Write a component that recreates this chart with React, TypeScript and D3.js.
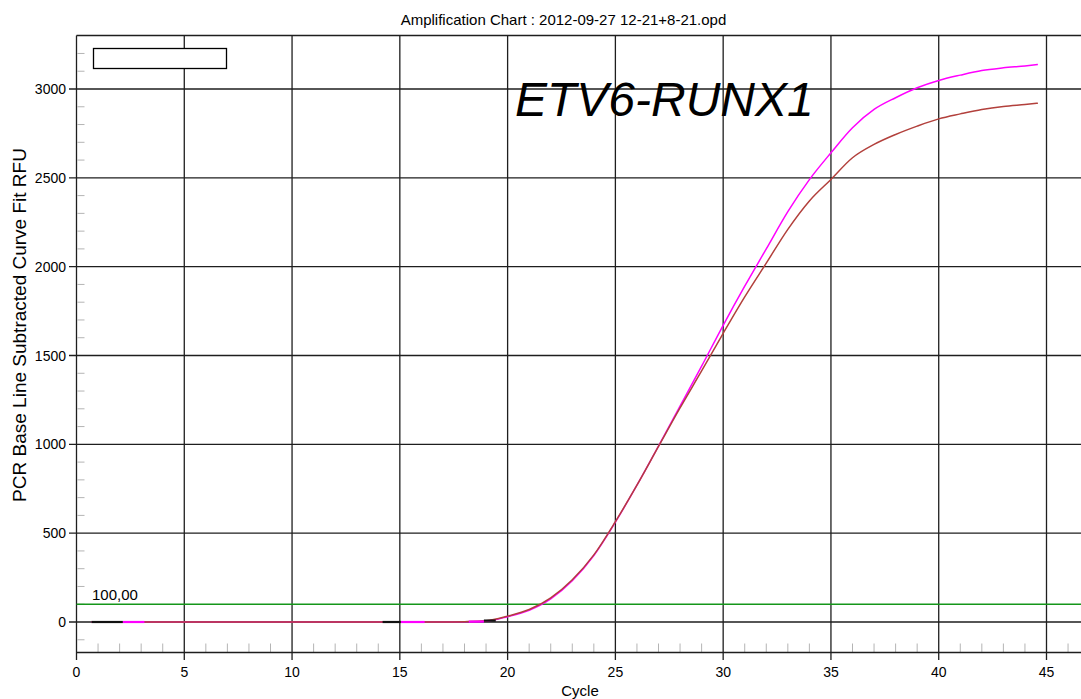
import React from "react";
import * as d3 from "d3";

const cycles = [0.7, 1, 2, 3, 4, 5, 6, 7, 8, 9, 10, 11, 12, 13, 14, 15, 16, 17, 18, 19, 20, 21, 22, 23, 24, 25, 26, 27, 28, 29, 30, 31, 32, 33, 34, 35, 36, 37, 38, 39, 40, 41, 42, 43, 44, 44.6];
const magentaRFU = [0, 0, 0, 0, 0, 0, 0, 0, 0, 0, 0, 0, 0, 0, 0, 0, 0, 0, 1, 5, 30, 66, 130, 232, 374, 562, 770, 990, 1215, 1440, 1670, 1890, 2100, 2310, 2490, 2641, 2782, 2885, 2951, 3007, 3048, 3078, 3104, 3119, 3130, 3138];
const brownRFU = [0, 0, 0, 0, 0, 0, 0, 0, 0, 0, 0, 0, 0, 0, 0, 0, 0, 0, 2, 7, 33, 70, 136, 238, 378, 565, 770, 988, 1205, 1413, 1625, 1830, 2020, 2210, 2370, 2491, 2613, 2688, 2744, 2791, 2832, 2860, 2885, 2902, 2913, 2920];

// baseline range markers [startCycle, endCycle, value]
const blackMarkers = [[0.7, 2.15, 0], [14.2, 15.05, 0], [18.9, 19.45, 8]];
const magentaMarkers = [[2.15, 3.15, 0], [15.05, 16.15, 0], [18.2, 18.9, 2]];

const xMajor = [0, 5, 10, 15, 20, 25, 30, 35, 40, 45];
const xMinor = [1, 2, 3, 4, 6, 7, 8, 9, 11, 12, 13, 14, 16, 17, 18, 19, 21, 22, 23, 24, 26, 27, 28, 29, 31, 32, 33, 34, 36, 37, 38, 39, 41, 42, 43, 44, 46];
const yMajor = [0, 500, 1000, 1500, 2000, 2500, 3000];
const yMinor = [-100, 100, 200, 300, 400, 600, 700, 800, 900, 1100, 1200, 1300, 1400, 1600, 1700, 1800, 1900, 2100, 2200, 2300, 2400, 2600, 2700, 2800, 2900, 3100, 3200];
const threshold = 100;
const thresholdLabel = "100,00";
const title = "Amplification Chart : 2012-09-27 12-21+8-21.opd";
const xTitle = "Cycle";
const yTitle = "PCR Base Line Subtracted Curve Fit RFU";
const annotation = "ETV6-RUNX1";

const W = 1081;
const H = 699;
const left = 76.5;
const top = 35.5;
const bottom = 652.5;
const right = W;

export default function App() {
  const x = d3.scaleLinear().domain([0, 45]).range([left, 1046.5]);
  const y = d3.scaleLinear().domain([0, 3000]).range([622, 89]);
  const line = d3
    .line<number>()
    .x((_, i) => x(cycles[i]))
    .y((v) => y(v))
    .curve(d3.curveMonotoneX);
  const font = "'Liberation Sans', Arial, sans-serif";
  const grid = "#1e1e1e";
  return (
    <svg
      width={W}
      height={H}
      style={{ position: "absolute", left: 0, top: 0, background: "#fff" }}
      fontFamily={font}
    >
      <rect x={0} y={0} width={W} height={H} fill="#fff" />
      <text x={563.5} y={24.5} fontSize={15} textAnchor="middle" fill="#000">
        {title}
      </text>
      {/* minor ticks */}
      {yMinor.map((v) => (
        <line key={"ym" + v} x1={left + 1} x2={left + 8} y1={y(v)} y2={y(v)} stroke="#b4b4b4" strokeWidth={1} />
      ))}
      {xMinor.map((c) => (
        <line key={"xm" + c} x1={x(c)} x2={x(c)} y1={bottom - 9} y2={bottom} stroke="#b4b4b4" strokeWidth={1} />
      ))}
      {/* grid */}
      {xMajor.map((c) => (
        <line key={"xg" + c} x1={x(c)} x2={x(c)} y1={top} y2={bottom + 7.5} stroke={grid} strokeWidth={1.3} />
      ))}
      {yMajor.map((v) => (
        <line key={"yg" + v} x1={left - 7.5} x2={right} y1={y(v)} y2={y(v)} stroke={grid} strokeWidth={1.3} />
      ))}
      <line x1={left} x2={right} y1={top} y2={top} stroke={grid} strokeWidth={1.3} />
      <line x1={left} x2={right} y1={bottom} y2={bottom} stroke={grid} strokeWidth={1.3} />
      {/* tick labels */}
      {xMajor.map((c) => (
        <text key={"xl" + c} x={x(c)} y={677} fontSize={14} textAnchor="middle" fill="#000">
          {c}
        </text>
      ))}
      {yMajor.map((v) => (
        <text key={"yl" + v} x={66} y={y(v) + 5} fontSize={14} textAnchor="end" fill="#000">
          {v}
        </text>
      ))}
      <text x={580} y={696} fontSize={15} textAnchor="middle" fill="#000">
        {xTitle}
      </text>
      <text
        transform={`translate(26,325) rotate(-90)`}
        fontSize={19}
        textAnchor="middle"
        fill="#000"
      >
        {yTitle}
      </text>
      {/* threshold */}
      <line x1={left} x2={right} y1={y(threshold)} y2={y(threshold)} stroke="#15961a" strokeWidth={1.4} />
      <text x={92} y={600} fontSize={15} fill="#000">
        {thresholdLabel}
      </text>
      {/* legend box */}
      <rect x={93.5} y={48.5} width={133} height={20} fill="#fff" stroke="#000" strokeWidth={1.3} />
      {/* annotation */}
      <text x={515} y={115.5} fontSize={48} fontStyle="italic" fill="#000">
        {annotation}
      </text>
      {/* curves */}
      <path d={line(magentaRFU) || ""} fill="none" stroke="#ff00ff" strokeWidth={1.5} />
      <path d={line(brownRFU) || ""} fill="none" stroke="#b2403c" strokeWidth={1.5} />
      {blackMarkers.map((m, i) => (
        <line key={"bm" + i} x1={x(m[0])} x2={x(m[1])} y1={y(m[2])} y2={y(m[2])} stroke="#111" strokeWidth={2.2} />
      ))}
      {magentaMarkers.map((m, i) => (
        <line key={"mm" + i} x1={x(m[0])} x2={x(m[1])} y1={y(m[2])} y2={y(m[2])} stroke="#ff00ff" strokeWidth={2.2} />
      ))}
    </svg>
  );
}
